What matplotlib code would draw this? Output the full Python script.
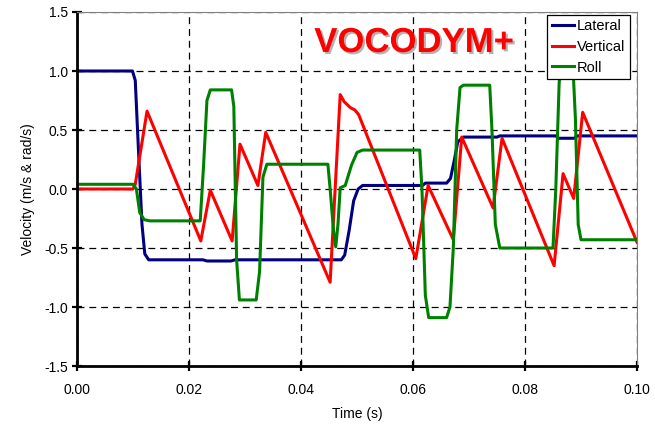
import numpy as np
import matplotlib
matplotlib.use("Agg")
import matplotlib.pyplot as plt
import matplotlib.patheffects as pe

plt.rcParams['font.family'] = ['Liberation Sans', 'DejaVu Sans']
plt.rcParams['lines.scale_dashes'] = False

# Lateral velocity (m/s)
t_lat = [0.0, 0.0099, 0.0104, 0.0110, 0.0116, 0.0121, 0.0128, 0.0225, 0.0232, 0.0275,
         0.0282, 0.0472, 0.0478, 0.0486, 0.0494, 0.0502, 0.0510, 0.0617, 0.0622, 0.0660,
         0.0667, 0.0674, 0.0680, 0.0690, 0.0750, 0.0755, 0.0855, 0.0860, 0.0888, 0.0893, 0.10]
v_lat = [1.0, 1.0, 0.92, 0.3, -0.3, -0.55, -0.6, -0.6, -0.61, -0.61,
         -0.6, -0.6, -0.56, -0.35, -0.1, 0.0, 0.03, 0.03, 0.05, 0.05,
         0.09, 0.25, 0.40, 0.44, 0.44, 0.45, 0.45, 0.43, 0.43, 0.45, 0.45]

# Vertical velocity (m/s)
t_ver = [0.0, 0.0100, 0.0104, 0.0125, 0.0221, 0.0238, 0.0277, 0.0291, 0.0323, 0.0337,
         0.0452, 0.0470, 0.0477, 0.0488, 0.0496, 0.0503, 0.0605, 0.0627, 0.0672, 0.0687,
         0.0743, 0.0759, 0.0852, 0.0868, 0.0887, 0.0903, 0.10]
v_ver = [0.0, 0.0, 0.04, 0.66, -0.44, -0.01, -0.44, 0.38, 0.03, 0.48,
         -0.79, 0.80, 0.74, 0.69, 0.67, 0.63, -0.59, 0.03, -0.43, 0.44,
         -0.16, 0.43, -0.65, 0.13, -0.08, 0.65, -0.45]

# Roll velocity (rad/s)
t_rol = [0.0, 0.0100, 0.0106, 0.0112, 0.0120, 0.0130, 0.0220, 0.0226, 0.0232, 0.0238,
         0.0276, 0.0280, 0.0285, 0.0290, 0.0320, 0.0326, 0.0332, 0.0339, 0.0448, 0.0452,
         0.0458, 0.0462, 0.0466, 0.0470, 0.0479, 0.0490, 0.0500, 0.0510, 0.0612, 0.0616,
         0.0622, 0.0628, 0.0660, 0.0666, 0.0672, 0.0678, 0.0684, 0.0690, 0.0737, 0.0741,
         0.0747, 0.0755, 0.0850, 0.0855, 0.0861, 0.0866, 0.0885, 0.0890, 0.0895, 0.0900, 0.10]
v_rol = [0.04, 0.04, 0.0, -0.2, -0.26, -0.27, -0.27, 0.2, 0.75, 0.84,
         0.84, 0.7, -0.6, -0.94, -0.94, -0.7, 0.1, 0.21, 0.21, 0.0,
         -0.35, -0.49, -0.3, 0.01, 0.03, 0.2, 0.31, 0.33, 0.33, 0.0,
         -0.9, -1.09, -1.09, -1.0, -0.5, 0.5, 0.86, 0.88, 0.88, 0.5,
         -0.3, -0.5, -0.5, 0.0, 0.9, 1.1, 1.1, 0.6, -0.3, -0.43, -0.43]

fig = plt.figure(figsize=(6.55, 4.3), dpi=100)
ax = fig.add_axes([0.1176, 0.1488, 0.8549, 0.8233])

ax.plot(t_lat, v_lat, color='#000080', lw=2.2, label='Lateral')
ax.plot(t_ver, v_ver, color='#ff0000', lw=2.2, label='Vertical')
ax.plot(t_rol, v_rol, color='#008000', lw=2.2, label='Roll')

ax.set_xlim(0, 0.10)
ax.set_ylim(-1.5, 1.5)
ax.set_xticks(np.arange(0, 0.101, 0.02))
ax.set_yticks(np.arange(-1.5, 1.51, 0.5))
ax.set_xticklabels(['%.2f' % v for v in np.arange(0, 0.101, 0.02)])
ax.set_yticklabels(['%.1f' % v for v in np.arange(-1.5, 1.51, 0.5)])
ax.grid(True, color='black', lw=0.9, linestyle=(0, (5, 3.5)))
ax.tick_params(direction='inout', length=7, width=1.6, labelsize=10, color='black')
ax.tick_params(axis='x', pad=9)
ax.tick_params(axis='y', pad=3)
ax.tick_params(top=False, right=False)

for s in ['left', 'bottom']:
    ax.spines[s].set_linewidth(2.0)
for s in ['top', 'right']:
    ax.spines[s].set_color('#808080')
    ax.spines[s].set_linewidth(0.8)

ax.set_xlabel('Time (s)', fontsize=10)
ax.set_ylabel('Velocity (m/s & rad/s)', fontsize=10)
ax.xaxis.set_label_coords(0.5, -0.115)
ax.yaxis.set_label_coords(-0.075, 0.5)

ax.text(0.0602, 1.161, 'VOCODYM+', color='#ff0000', fontsize=25, fontweight='bold',
        ha='center', va='baseline',
        path_effects=[pe.withSimplePatchShadow(offset=(1.5, -1.5), shadow_rgbFace='gray', alpha=0.6)])

leg = ax.legend(loc='upper right', bbox_to_anchor=(0.9875, 0.9915), borderaxespad=0,
                fancybox=False, edgecolor='black', framealpha=1, fontsize=10.5,
                handlelength=1.5, handletextpad=0.25, labelspacing=0.45, borderpad=0.3)
leg.get_frame().set_linewidth(0.9)

fig.savefig('out.png', dpi=100)
